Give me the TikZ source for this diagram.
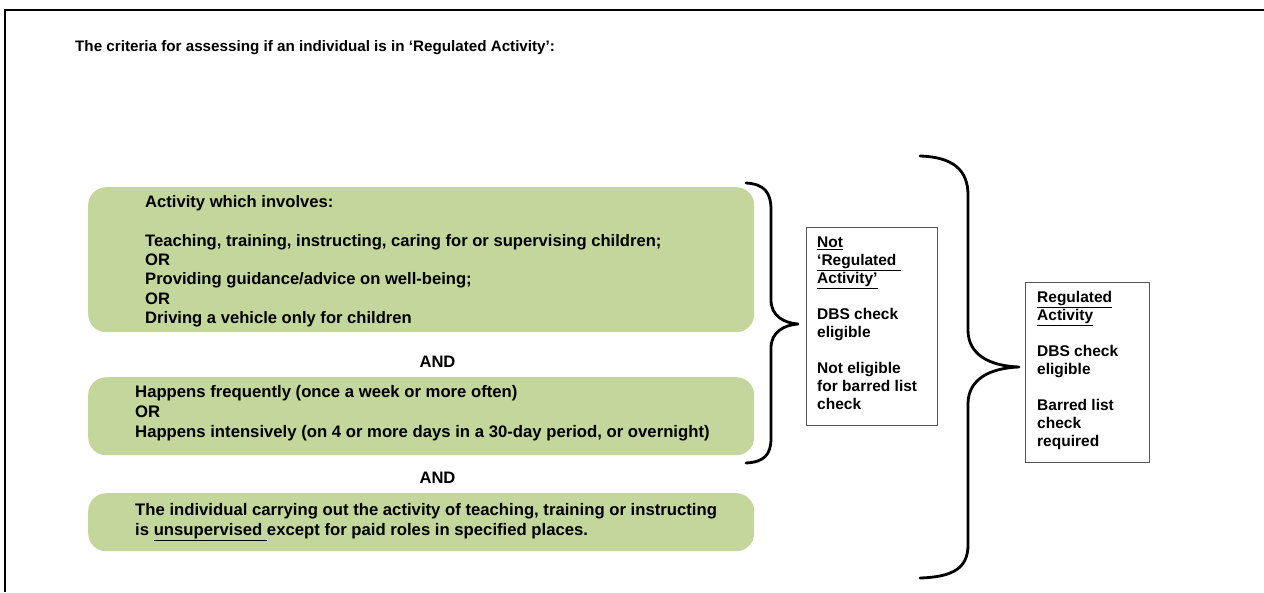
\documentclass[tikz,border=0pt]{standalone}
\usepackage{fontspec}
\setmainfont{Liberation Sans}
\definecolor{boxgreen}{RGB}{195,214,155}
\definecolor{boxline}{RGB}{85,85,85}
\begin{document}
\begin{tikzpicture}[x=1pt,y=-1pt,
  greenbox/.style={draw=none,fill=boxgreen,rounded corners=18pt,inner sep=0pt,anchor=north west},
  greentext/.style={anchor=north west,inner sep=0pt,align=left,font={\fontsize{16.6}{19.4}\selectfont\bfseries}},
  andtext/.style={anchor=base,inner sep=0pt,font={\fontsize{16.6}{19.4}\selectfont\bfseries}},
  sidebox/.style={draw=boxline,line width=1.3pt,fill=white,inner sep=0pt,anchor=north west},
  sidetext/.style={anchor=north west,inner sep=0pt,align=left,font={\fontsize{15.5}{18}\selectfont\bfseries}},
  bracepath/.style={draw=black,line width=2.8pt,line cap=round,line join=round},
  frameline/.style={draw=black,line width=2pt}]
\useasboundingbox (0,0) rectangle (1264,592);
\fill[white] (0,0) rectangle (1264,592);
% frame
\draw[frameline] (5,592) -- (5,9.5) -- (1264,9.5);
% title
\node[anchor=base west,inner sep=0pt,font={\fontsize{15.2}{18}\selectfont\bfseries}] (title) at (75,51.4)
  {The criteria for assessing if an individual is in ‘Regulated Activity’:};
% green boxes
\node[greenbox,minimum width=666pt,minimum height=145pt] (b1) at (88,187) {};
\node[greentext] (t1) at (145,195) {Activity which involves:\\[19.4pt]
Teaching, training, instructing, caring for or supervising children;\\
OR\\
Providing guidance/advice on well-being;\\
OR\\
Driving a vehicle only for children};
\node[andtext] (and1) at (437.5,367) {AND};
\node[greenbox,minimum width=666pt,minimum height=78pt] (b2) at (88,377) {};
\node[greentext,font={\fontsize{16.7}{20}\selectfont\bfseries}] (t2) at (135,385) {Happens frequently (once a week or more often)\\
OR\\
Happens intensively (on 4 or more days in a 30-day period, or overnight)};
\node[andtext] (and2) at (437.5,483) {AND};
\node[greenbox,minimum width=666pt,minimum height=58pt] (b3) at (88,493) {};
\node[greentext,font={\fontsize{16.7}{20}\selectfont\bfseries}] (t3) at (135,503) {The individual carrying out the activity of teaching, training or instructing\\
is \underline{unsupervised\ }except for paid roles in specified places.};
% side boxes
\node[sidebox,minimum width=131pt,minimum height=198pt] (nr) at (806,227) {};
\node[sidetext] (nrt) at (817,236.5) {\underline{Not}\\
\underline{‘Regulated\ }\\
\underline{Activity’}\\[18pt]
DBS check\\
eligible\\[18pt]
Not eligible\\
for barred list\\
check};
\node[sidebox,minimum width=124pt,minimum height=180pt] (ra) at (1025,282) {};
\node[sidetext] (rat) at (1037,291.5) {\underline{Regulated}\\
\underline{Activity}\\[18pt]
DBS check\\
eligible\\[18pt]
Barred list\\
check\\
required};
% braces
\coordinate (tip1) at (798,324);
\coordinate (tip2) at (1019,367);
\draw[bracepath] (746,183) .. controls (764,184) and (771,192) .. (771,210) -- (771,300)
  .. controls (771,316) and (784,323) .. (tip1)
  .. controls (784,325) and (771,332) .. (771,348) -- (771,438)
  .. controls (771,455) and (764,462) .. (746,463);
\draw[bracepath] (920,156) .. controls (953,157) and (968,170) .. (968,195) -- (968,330)
  .. controls (968,355) and (990,366) .. (tip2)
  .. controls (990,368) and (968,379) .. (968,404) -- (968,545)
  .. controls (968,568) and (953,577) .. (920,578);
\end{tikzpicture}
\end{document}
